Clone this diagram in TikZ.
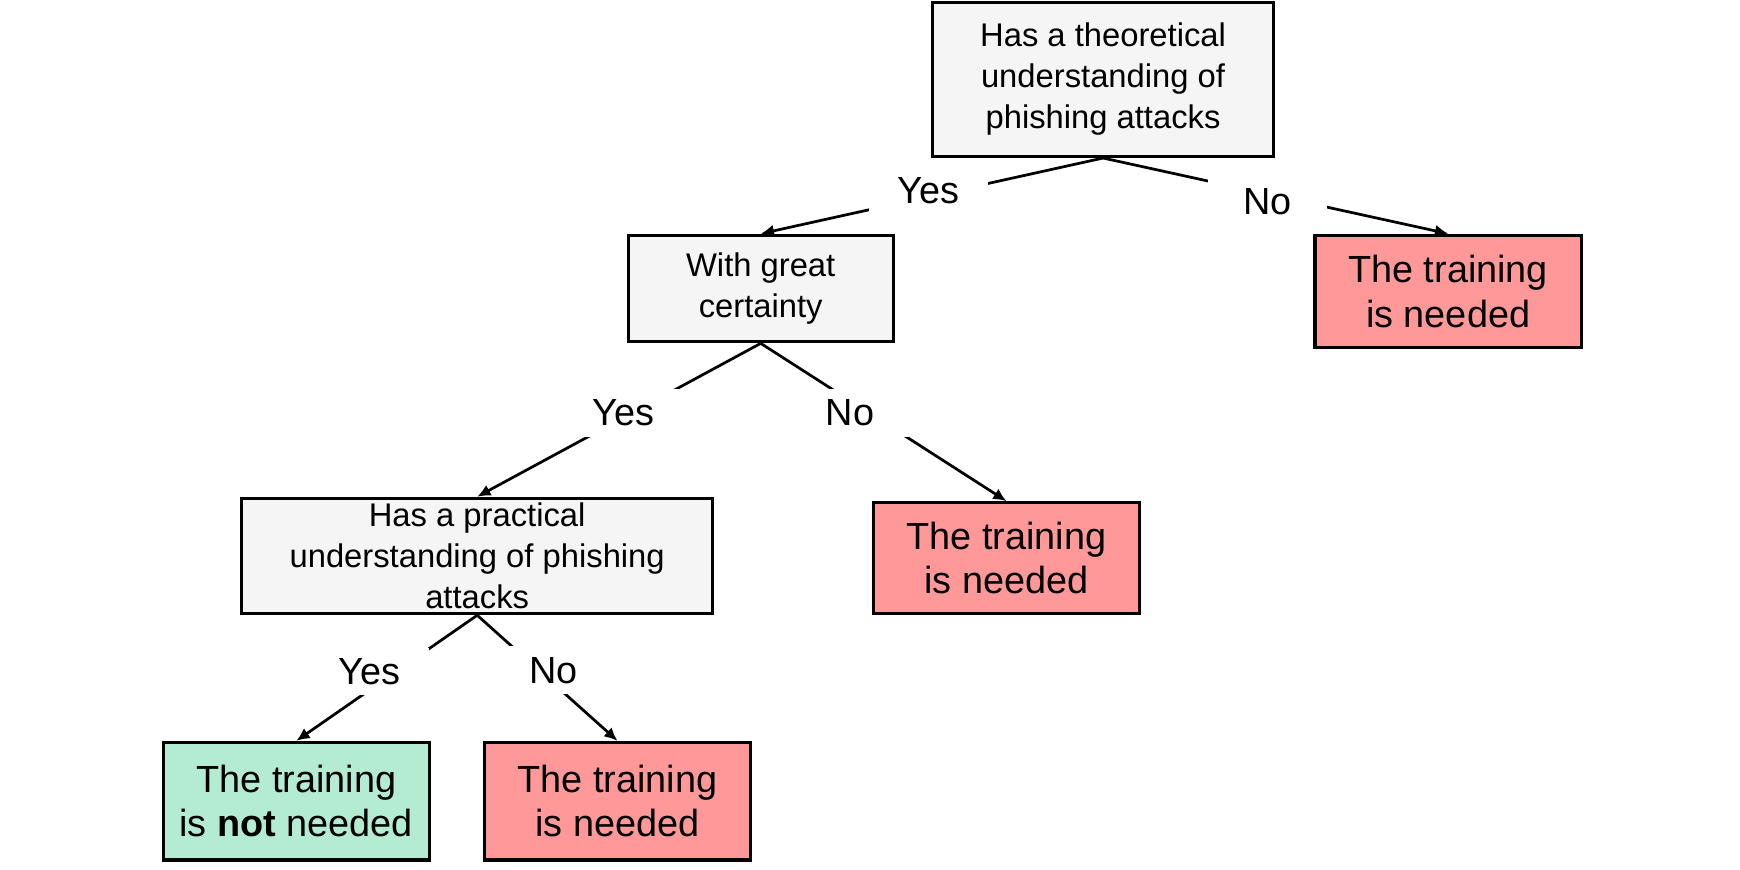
\documentclass[tikz,border=0pt]{standalone}
\usepackage{fontspec}
\setmainfont{Liberation Sans}
\usepackage{tikz}
\usetikzlibrary{arrows.meta}
\definecolor{askgray}{HTML}{F5F5F5}
\definecolor{needred}{HTML}{FF9999}
\definecolor{notgreen}{HTML}{B3EBD3}
\begin{document}
\begin{tikzpicture}[scale=0.1]
\tikzstyle{every node}+=[inner sep=0pt]
\tikzstyle{question}=[draw=black, line width=0.8pt, fill=askgray, align=center, font=\fontsize{8.4}{10.5}\selectfont]
\tikzstyle{answer}=[draw=black, line width=0.8pt, align=center, minimum width=24mm, minimum height=10.2mm, font=\fontsize{9.7}{11.4}\selectfont]
\tikzstyle{choice}=[fill=white, minimum width=10.7mm, minimum height=4.3mm, font=\fontsize{9.7}{11.4}\selectfont]
\tikzstyle{branch}=[black, line width=0.7pt, -{Latex[length=1.2mm,width=1.1mm]}]
\useasboundingbox (0,0) rectangle (156.8,-78.4);
% questions
\node [question, minimum width=30.8mm, minimum height=13.9mm] (theory) at (99.4,-7.15) {Has a theoretical\\understanding of\\phishing attacks};
\node [question, minimum width=23.9mm, minimum height=9.6mm] (certain) at (68.55,-26.0) {With great\\certainty};
\node [question, minimum width=42.4mm, minimum height=10.4mm] (practice) at (43.0,-50.1) {Has a practical\\understanding of phishing\\attacks};
% answers
\node [answer, fill=needred, minimum height=10.1mm] (needA) at (130.5,-26.25) {The training\\is needed};
\node [answer, fill=needred, minimum height=10.0mm] (needB) at (90.7,-50.3) {The training\\is needed};
\node [answer, fill=notgreen, minimum height=10.6mm] (notneed) at (26.7,-72.2) {The training\\is \textbf{not} needed};
\node [answer, fill=needred, minimum height=10.6mm] (needC) at (55.65,-72.2) {The training\\is needed};
% branches
\draw [branch] (theory.south) -- (certain.north);
\draw [branch] (theory.south) -- (needA.north);
\draw [branch] (certain.south) -- (practice.north);
\draw [branch] (certain.south) -- (needB.north);
\draw [branch] (practice.south) -- (notneed.north);
\draw [branch] (practice.south) -- (needC.north);
% yes / no
\node [choice] (yesA) at (83.7,-17.2) {Yes};
\node [choice] (noA) at (114.2,-18.2) {No};
\node [choice] (yesB) at (56.2,-37.2) {Yes};
\node [choice] (noB) at (76.6,-37.2) {No};
\node [choice] (yesC) at (33.3,-60.5) {Yes};
\node [choice] (noC) at (49.9,-60.4) {No};
\end{tikzpicture}
\end{document}
